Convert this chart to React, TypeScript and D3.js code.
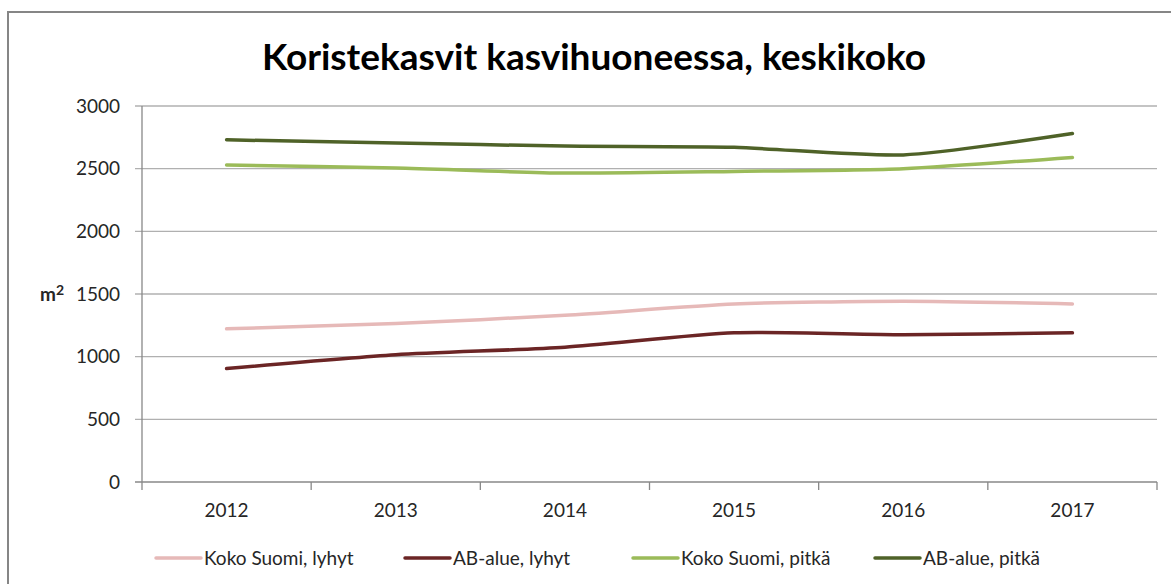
import React from "react";
import * as d3 from "d3";

const years = ["2012", "2013", "2014", "2015", "2016", "2017"];
const kokoLyhyt = [1222, 1265, 1330, 1420, 1443, 1420];
const abLyhyt = [905, 1015, 1075, 1190, 1175, 1190];
const kokoPitka = [2530, 2505, 2465, 2478, 2500, 2590];
const abPitka = [2730, 2705, 2680, 2670, 2610, 2780];
const yTicks = [0, 500, 1000, 1500, 2000, 2500, 3000];
const seriesNames = ["Koko Suomi, lyhyt", "AB-alue, lyhyt", "Koko Suomi, pitkä", "AB-alue, pitkä"];
const seriesColors = ["#e6b9b8", "#6b2525", "#9bbb59", "#4f6228"];

const W = 1171;
const H = 584;
const left = 142;
const right = 1157;
const top = 106;
const bottom = 482;

export default function App() {
  const x = d3.scaleBand<string>().domain(years).range([left, right]);
  const y = d3.scaleLinear().domain([0, 3000]).range([bottom, top]);
  const data = [kokoLyhyt, abLyhyt, kokoPitka, abPitka];
  const line = d3
    .line<number>()
    .x((_, i) => (x(years[i]) as number) + x.bandwidth() / 2)
    .y((d) => y(d))
    .curve(d3.curveCardinal.tension(0.3));
  const legendX = [156, 405, 633, 875];
  const font = "Lato, sans-serif";
  return (
    <svg width={W} height={H} style={{ position: "absolute", left: 0, top: 0, background: "#fff" }}>
      <rect x={8} y={12} width={W + 20} height={H + 20} fill="#fff" stroke="#868686" strokeWidth={2} />
      <text x={594} y={70} textAnchor="middle" fontFamily="Lato, sans-serif" fontWeight="bold" fontSize={37} fill="#000">
        Koristekasvit kasvihuoneessa, keskikoko
      </text>
      {yTicks.map((t) => (
        <g key={t}>
          <line x1={135} x2={right} y1={y(t)} y2={y(t)} stroke={t === 0 ? "#888" : "#b0b0b0"} strokeWidth={1.3} />
          <text x={120} y={y(t) + 6.5} textAnchor="end" fontFamily={font} fontSize={19} fill="#262626">
            {t}
          </text>
        </g>
      ))}
      <line x1={left} x2={left} y1={top} y2={bottom + 8} stroke="#888" strokeWidth={1.3} />
      {years.map((yr, i) => (
        <g key={yr}>
          <line x1={left + (i + 1) * x.bandwidth()} x2={left + (i + 1) * x.bandwidth()} y1={bottom} y2={bottom + 8} stroke="#888" strokeWidth={1.3} />
          <text x={(x(yr) as number) + x.bandwidth() / 2} y={517} textAnchor="middle" fontFamily={font} fontSize={19} fill="#262626">
            {yr}
          </text>
        </g>
      ))}
      <text x={40} y={301} fontFamily={font} fontWeight="bold" fontSize={19} fill="#262626">
        m<tspan fontSize={14} dy={-6}>2</tspan>
      </text>
      {data.map((d, i) => (
        <path key={i} d={line(d) || ""} fill="none" stroke={seriesColors[i]} strokeWidth={3.5} strokeLinecap="round" strokeLinejoin="round" />
      ))}
      {seriesNames.map((n, i) => (
        <g key={n}>
          <line x1={legendX[i]} x2={legendX[i] + 45} y1={558} y2={558} stroke={seriesColors[i]} strokeWidth={3.5} strokeLinecap="round" />
          <text x={legendX[i] + 48} y={565} fontFamily={font} fontSize={19} fill="#262626">
            {n}
          </text>
        </g>
      ))}
    </svg>
  );
}
